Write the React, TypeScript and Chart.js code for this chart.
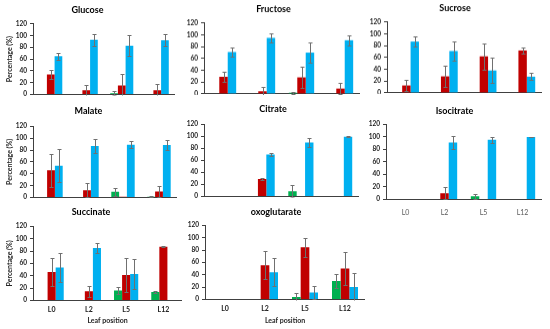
import React, { useEffect, useRef } from 'react';
import { Chart, registerables } from 'chart.js';

Chart.register(...registerables);

// ---------- data ----------
const categories = ['L0', 'L2', 'L5', 'L12'];
const yTickMin = 0;
const yTickMax = 120;
const yTickStep = 20;

// Glucose
const glucoseGreen = [null, null, 2, null];
const glucoseGreenErr = [0, 0, 3, 0];
const glucoseRed = [34, 7, 15, 7];
const glucoseRedErr = [7, 9, 20, 10];
const glucoseBlue = [65, 93, 83, 92];
const glucoseBlueErr = [6, 10, 18, 10];

// Fructose
const fructoseGreen = [null, null, 2, null];
const fructoseGreenErr = [0, 0, 2, 0];
const fructoseRed = [29, 4.5, 28, 9];
const fructoseRedErr = [8, 7, 18, 9];
const fructoseBlue = [71, 95, 70, 91];
const fructoseBlueErr = [8, 7, 17, 9];

// Sucrose
const sucroseGreen = [null, null, null, null];
const sucroseGreenErr = [0, 0, 0, 0];
const sucroseRed = [12.6, 28, 62, 72];
const sucroseRedErr = [9, 18, 22, 5];
const sucroseBlue = [87, 71, 38, 27.5];
const sucroseBlueErr = [9, 17, 21, 6];

// Malate
const malateGreen = [null, null, 9.6, 1];
const malateGreenErr = [0, 0, 7, 1];
const malateRed = [46, 12, 1, 10];
const malateRedErr = [28, 12, 0, 9];
const malateBlue = [53.5, 87, 89, 88.5];
const malateBlueErr = [28, 12, 6, 9];

// Citrate
const citrateGreen = [null, null, 8.5, null];
const citrateGreenErr = [0, 0, 10, 0];
const citrateRed = [null, 29, null, 0.5];
const citrateRedErr = [0, 2, 0, 0];
const citrateBlue = [null, 70, 90, 99.5];
const citrateBlueErr = [0, 2, 8, 1];

// Isocitrate
const isocitrateGreen = [null, null, 5, null];
const isocitrateGreenErr = [0, 0, 4, 0];
const isocitrateRed = [null, 10, null, null];
const isocitrateRedErr = [0, 10, 0, 0];
const isocitrateBlue = [null, 91, 95.5, 100];
const isocitrateBlueErr = [0, 10, 4.5, 0.5];

// Succinate
const succinateGreen = [null, null, 16, 13.5];
const succinateGreenErr = [0, 0, 5, 1];
const succinateRed = [46, 15, 41, 87];
const succinateRedErr = [23, 9, 27, 1];
const succinateBlue = [53.5, 85, 43, null];
const succinateBlueErr = [24, 7.5, 24, 0];

// oxoglutarate
const oxoGreen = [null, null, 4, 30];
const oxoGreenErr = [0, 0, 6, 12];
const oxoRed = [null, 55.5, 84.5, 50];
const oxoRedErr = [0, 22.5, 15, 27];
const oxoBlue = [null, 44, 11, 20];
const oxoBlueErr = [0, 22.5, 10, 23];

const yAxisTitle = 'Percentage (%)';
const xAxisTitle = 'Leaf position';

// ---------- styles ----------
const GREEN = '#00B050';
const RED = '#C00000';
const BLUE = '#00B0F0';
const FONT = 'Lato, "Open Sans", sans-serif';

type Panel = {
  title: string;
  green: (number | null)[]; greenErr: number[];
  red: (number | null)[]; redErr: number[];
  blue: (number | null)[]; blueErr: number[];
  pl: number; pr: number; pt: number; pb: number; ty: number;
  yW: number; xH: number;
  yTitle: boolean; xLabels: 0 | 1 | 2; xPad: number; xTitle: boolean;
};

const panels: Panel[] = [
  { title: 'Glucose', green: glucoseGreen, greenErr: glucoseGreenErr, red: glucoseRed, redErr: glucoseRedErr, blue: glucoseBlue, blueErr: glucoseBlueErr,
    pl: 33, pr: 175, pt: 23.5, pb: 94, ty: 10, yW: 33, xH: 2, yTitle: true, xLabels: 0, xPad: 0, xTitle: false },
  { title: 'Fructose', green: fructoseGreen, greenErr: fructoseGreenErr, red: fructoseRed, redErr: fructoseRedErr, blue: fructoseBlue, blueErr: fructoseBlueErr,
    pl: 204, pr: 360, pt: 23, pb: 93, ty: 9.5, yW: 17, xH: 2, yTitle: false, xLabels: 0, xPad: 0, xTitle: false },
  { title: 'Sucrose', green: sucroseGreen, greenErr: sucroseGreenErr, red: sucroseRed, redErr: sucroseRedErr, blue: sucroseBlue, blueErr: sucroseBlueErr,
    pl: 387, pr: 542, pt: 22, pb: 92, ty: 8.5, yW: 19, xH: 2, yTitle: false, xLabels: 0, xPad: 0, xTitle: false },
  { title: 'Malate', green: malateGreen, greenErr: malateGreenErr, red: malateRed, redErr: malateRedErr, blue: malateBlue, blueErr: malateBlueErr,
    pl: 33, pr: 177, pt: 126, pb: 197, ty: 111, yW: 33, xH: 2, yTitle: true, xLabels: 0, xPad: 0, xTitle: false },
  { title: 'Citrate', green: citrateGreen, greenErr: citrateGreenErr, red: citrateRed, redErr: citrateRedErr, blue: citrateBlue, blueErr: citrateBlueErr,
    pl: 204, pr: 359, pt: 124, pb: 196, ty: 109, yW: 17, xH: 2, yTitle: false, xLabels: 0, xPad: 0, xTitle: false },
  { title: 'Isocitrate', green: isocitrateGreen, greenErr: isocitrateGreenErr, red: isocitrateRed, redErr: isocitrateRedErr, blue: isocitrateBlue, blueErr: isocitrateBlueErr,
    pl: 386, pr: 542, pt: 124, pb: 199, ty: 111, yW: 19, xH: 20, yTitle: false, xLabels: 1, xPad: 9, xTitle: false },
  { title: 'Succinate', green: succinateGreen, greenErr: succinateGreenErr, red: succinateRed, redErr: succinateRedErr, blue: succinateBlue, blueErr: succinateBlueErr,
    pl: 33, pr: 182, pt: 226, pb: 300, ty: 212, yW: 33, xH: 29, yTitle: true, xLabels: 2, xPad: 5, xTitle: true },
  { title: 'oxoglutarate', green: oxoGreen, greenErr: oxoGreenErr, red: oxoRed, redErr: oxoRedErr, blue: oxoBlue, blueErr: oxoBlueErr,
    pl: 205, pr: 365, pt: 225, pb: 299, ty: 212, yW: 18, xH: 30, yTitle: false, xLabels: 2, xPad: 5, xTitle: true },
];

const TITLE_SIZE = 9;
const TITLE_LH = TITLE_SIZE * 1.2;

const errorBarPlugin = {
  id: 'errorBars',
  afterDatasetsDraw(chart: any, _args: any, opts: any) {
    const errs: number[][] = opts.errors || [];
    const ys = chart.scales.y;
    const area = chart.chartArea;
    const ctx = chart.ctx;
    ctx.save();
    ctx.beginPath();
    ctx.rect(area.left, area.top - 2, area.right - area.left, area.bottom - area.top + 3);
    ctx.clip();
    ctx.strokeStyle = '#707070';
    ctx.lineWidth = 1;
    chart.data.datasets.forEach((ds: any, i: number) => {
      const meta = chart.getDatasetMeta(i);
      ds.data.forEach((v: number | null, j: number) => {
        const e = errs[i] ? errs[i][j] : 0;
        if (v == null || !e) return;
        const el = meta.data[j];
        if (!el) return;
        const x = Math.round(el.x) + 0.5;
        const y1 = Math.round(ys.getPixelForValue(v + e)) + 0.5;
        const y2 = Math.round(ys.getPixelForValue(v - e)) + 0.5;
        ctx.beginPath();
        ctx.moveTo(x, y1); ctx.lineTo(x, y2);
        ctx.moveTo(x - 2, y1); ctx.lineTo(x + 2, y1);
        ctx.moveTo(x - 2, y2); ctx.lineTo(x + 2, y2);
        ctx.stroke();
      });
    });
    ctx.restore();
  },
};

function PanelChart({ p }: { p: Panel }) {
  const ref = useRef<HTMLCanvasElement | null>(null);
  const left = p.pl - p.yW;
  const top = p.ty - TITLE_LH / 2;
  const width = p.pr - left;
  const height = p.pb + p.xH - top;
  const titleBottomPad = p.pt - top - TITLE_LH;

  useEffect(() => {
    if (!ref.current) return;
    const chart = new Chart(ref.current, {
      type: 'bar',
      data: {
        labels: categories,
        datasets: [
          { data: p.green as any, backgroundColor: GREEN, categoryPercentage: 0.65, barPercentage: 1 },
          { data: p.red as any, backgroundColor: RED, categoryPercentage: 0.65, barPercentage: 1 },
          { data: p.blue as any, backgroundColor: BLUE, categoryPercentage: 0.65, barPercentage: 1 },
        ],
      },
      options: {
        animation: false,
        responsive: true,
        maintainAspectRatio: false,
        devicePixelRatio: 1,
        layout: { padding: 0 },
        plugins: {
          legend: { display: false },
          tooltip: { enabled: false },
          title: {
            display: true,
            text: p.title,
            color: '#000',
            font: { family: FONT, size: TITLE_SIZE, weight: 'bold', lineHeight: 1.2 },
            padding: { top: 0, bottom: titleBottomPad },
          },
          errorBars: { errors: [p.greenErr, p.redErr, p.blueErr] },
        } as any,
        scales: {
          x: {
            type: 'category',
            grid: { display: false, drawTicks: false, tickLength: 0 },
            border: { display: true, color: '#404040', width: 1 },
            ticks: {
              display: p.xLabels > 0,
              padding: p.xPad,
              maxRotation: 0,
              autoSkip: false,
              color: p.xLabels === 2 ? '#1a1a1a' : '#595959',
              font: { family: FONT, size: 7, weight: p.xLabels === 2 ? 'bold' : 'normal' },
            },
            title: {
              display: p.xTitle,
              text: xAxisTitle,
              color: '#262626',
              font: { family: FONT, size: 7, weight: 'bold', lineHeight: 1.2 },
              padding: { top: 4, bottom: 4 },
            },
            afterFit(scale: any) {
              scale.height = p.xH;
              scale.paddingLeft = 0; scale.paddingRight = 0;
              scale.paddingTop = 0; scale.paddingBottom = 0;
            },
          },
          y: {
            min: yTickMin,
            max: yTickMax,
            grid: { display: true, drawOnChartArea: false, drawTicks: true, tickLength: 3, color: '#404040' },
            border: { display: true, color: '#404040', width: 1 },
            ticks: {
              stepSize: yTickStep,
              padding: 3,
              color: '#1a1a1a',
              font: { family: FONT, size: 6.5, weight: 'bold' },
            },
            title: {
              display: p.yTitle,
              text: yAxisTitle,
              color: '#262626',
              font: { family: FONT, size: 7, weight: 'bold', lineHeight: 1.2 },
              padding: { top: 5.8, bottom: 0 },
            },
            afterFit(scale: any) {
              scale.width = p.yW;
              scale.paddingTop = 0; scale.paddingBottom = 0;
              scale.paddingLeft = 0; scale.paddingRight = 0;
            },
          },
        },
      } as any,
      plugins: [errorBarPlugin as any],
    });
    return () => chart.destroy();
  }, []);

  return (
    <div style={{ position: 'absolute', left, top, width, height }}>
      <canvas ref={ref} />
    </div>
  );
}

export default function App() {
  return (
    <div style={{ position: 'fixed', left: 0, top: 0, width: 550, height: 329, background: '#fff', overflow: 'hidden' }}>
      {panels.map((p) => (
        <PanelChart key={p.title} p={p} />
      ))}
    </div>
  );
}
